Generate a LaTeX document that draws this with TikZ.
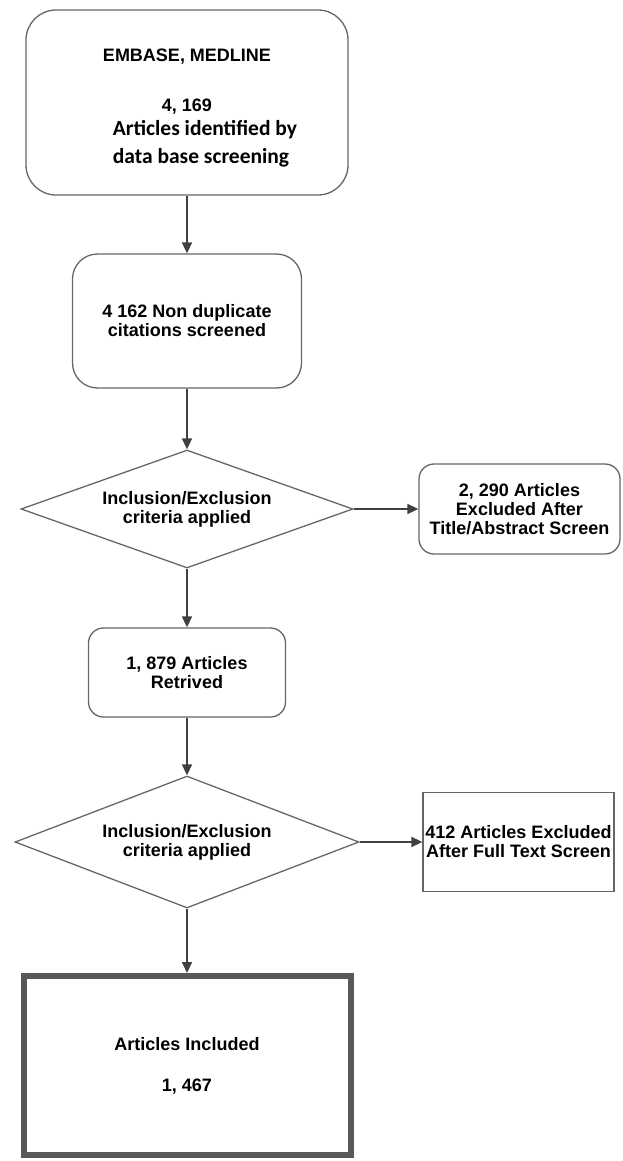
\documentclass[tikz,border=0pt]{standalone}
\usepackage{fontspec}
\setmainfont{Liberation Sans}
\newfontfamily\calfont{Carlito}
\usetikzlibrary{shapes.geometric,arrows.meta}

\begin{document}
\begin{tikzpicture}[x=1pt,y=-1pt]
  \useasboundingbox (0,0) rectangle (622,1161);
  \tikzset{boxfont/.style={font=\fontsize{18}{19}\selectfont\bfseries},
           flowbox/.style={draw=black!60,line width=1.3pt,rounded corners=#1,inner sep=0pt,align=center,boxfont},
           flowbox/.default=15pt,
           decision/.style={diamond,aspect=#1,draw=black!60,line width=1.3pt,inner sep=0pt,align=center,boxfont},
           flowarrow/.style={draw=black!75,line width=1.6pt,-{Triangle[width=10pt,length=11pt]}}}

 % data base search
  \node[flowbox=30pt, minimum width=322, minimum height=185] (db) at (187,102.5) {};
  \node[anchor=base, boxfont] (dbname) at (187,62) {EMBASE, MEDLINE};
  \node[anchor=base, boxfont] (dbcount) at (187,112) {4, 169};
  \node[anchor=base, font=\calfont\fontsize{21.5}{24}\selectfont\bfseries] (dbtext1) at (205,136) {Articles identified by};
  \node[anchor=base, font=\calfont\fontsize{21.5}{24}\selectfont\bfseries] (dbtext2) at (201,164) {data base screening};

 % first screening
  \node[flowbox=25pt, minimum width=229, minimum height=134] (dedup) at (187,321) {4 162 Non duplicate\\citations screened};
  \node[decision=2.8, minimum width=332, minimum height=118] (crit1) at (187,509) {Inclusion/Exclusion\\criteria applied};
  \node[flowbox, minimum width=201, minimum height=90] (excl1) at (519.5,509) {2, 290 Articles\\Excluded After\\Title/Abstract Screen};

 % full text screening
  \node[flowbox, minimum width=197, minimum height=89] (retr) at (187,672.5) {1, 879 Articles\\Retrived};
  \node[decision=2.6, minimum width=344, minimum height=132] (crit2) at (187,842) {Inclusion/Exclusion\\criteria applied};
  \node[flowbox=0pt, minimum width=191, minimum height=99] (excl2) at (518.5,842) {412 Articles Excluded\\After Full Text Screen};

 % result
  \node[draw=black!65, line width=6pt, inner sep=0pt, align=center, boxfont, minimum width=327, minimum height=179] (incl) at (187,1065.5) {Articles Included\\[22pt]1, 467};

 % connectors
  \draw[flowarrow] (db) -- (dedup);
  \draw[flowarrow] (dedup) -- (crit1);
  \draw[flowarrow] (crit1) -- (excl1);
  \draw[flowarrow] (crit1) -- (retr);
  \draw[flowarrow] (retr) -- (crit2);
  \draw[flowarrow] (crit2) -- (excl2);
  \draw[flowarrow] (crit2) -- (incl);
\end{tikzpicture}
\end{document}
